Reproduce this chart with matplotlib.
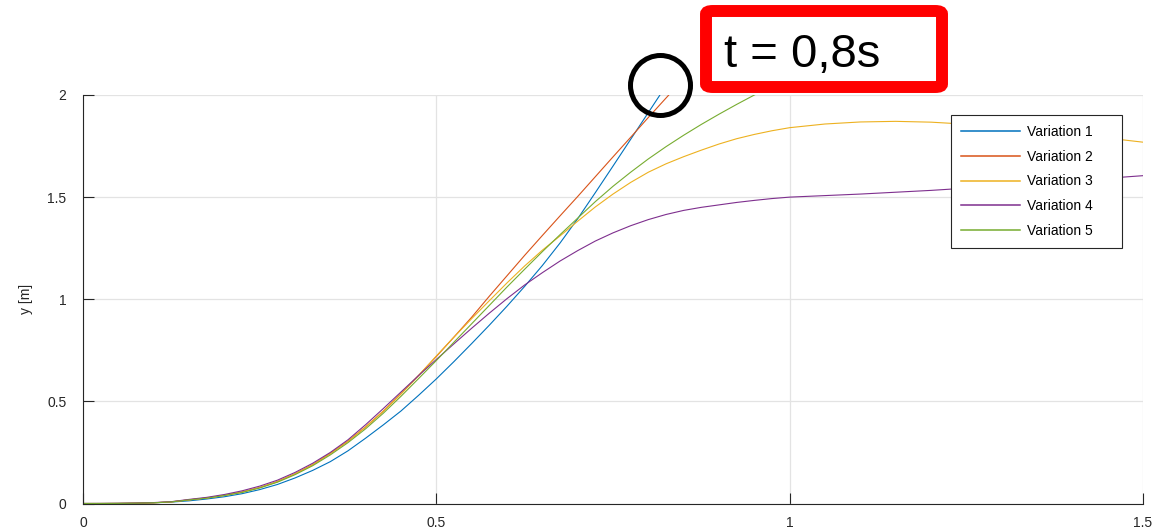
import matplotlib
matplotlib.use("Agg")
import matplotlib.pyplot as plt
from matplotlib.patches import FancyBboxPatch, Ellipse
from matplotlib.ticker import FormatStrFormatter

plt.rcParams['font.family'] = ['Liberation Sans', 'DejaVu Sans']

# values (time in s, y in m)
t_1 = [0, 0.025, 0.05, 0.075, 0.1, 0.125, 0.15, 0.175, 0.2, 0.225, 0.25,
       0.275, 0.3, 0.325, 0.35, 0.375, 0.4, 0.425, 0.45, 0.475, 0.5, 0.525,
       0.55, 0.575, 0.6, 0.625, 0.65, 0.675, 0.7, 0.725, 0.75, 0.775, 0.8,
       0.825]
y_1 = [0, 0.0001, 0.0005, 0.0015, 0.0035, 0.007, 0.013, 0.022, 0.033, 0.048,
       0.068, 0.093, 0.125, 0.162, 0.205, 0.258, 0.32, 0.385, 0.453, 0.53,
       0.61, 0.695, 0.783, 0.873, 0.966, 1.063, 1.165, 1.275, 1.394, 1.522,
       1.652, 1.783, 1.914, 2.045]

t_2 = [0, 0.025, 0.05, 0.075, 0.1, 0.125, 0.15, 0.175, 0.2, 0.225, 0.25,
       0.275, 0.3, 0.325, 0.35, 0.375, 0.4, 0.425, 0.45, 0.475, 0.5, 0.525,
       0.55, 0.575, 0.6, 0.625, 0.65, 0.675, 0.7, 0.725, 0.75, 0.775, 0.8,
       0.825, 0.85]
y_2 = [0, 0.0001, 0.0005, 0.0015, 0.0035, 0.008, 0.018, 0.027, 0.04, 0.056,
       0.078, 0.107, 0.145, 0.19, 0.245, 0.305, 0.375, 0.452, 0.537, 0.627,
       0.72, 0.815, 0.912, 1.015, 1.115, 1.215, 1.312, 1.408, 1.503, 1.60,
       1.697, 1.793, 1.89, 1.985, 2.08]

t_3 = [0, 0.025, 0.05, 0.075, 0.1, 0.125, 0.15, 0.175, 0.2, 0.225, 0.25,
       0.275, 0.3, 0.325, 0.35, 0.375, 0.4, 0.425, 0.45, 0.475, 0.5, 0.525,
       0.55, 0.575, 0.6, 0.625, 0.65, 0.675, 0.7, 0.725, 0.75, 0.775, 0.8,
       0.825, 0.85, 0.875, 0.9, 0.925, 0.95, 0.975, 1.0, 1.05, 1.1, 1.15,
       1.2, 1.25, 1.3, 1.35, 1.4, 1.45, 1.5]
y_3 = [0, 0.0001, 0.0005, 0.0015, 0.0035, 0.008, 0.018, 0.027, 0.04, 0.056,
       0.078, 0.107, 0.145, 0.19, 0.245, 0.305, 0.375, 0.452, 0.537, 0.627,
       0.722, 0.815, 0.905, 0.993, 1.08, 1.163, 1.24, 1.31, 1.382, 1.452,
       1.515, 1.572, 1.622, 1.663, 1.698, 1.73, 1.76, 1.786, 1.807, 1.825,
       1.84, 1.858, 1.868, 1.871, 1.867, 1.857, 1.843, 1.827, 1.809, 1.789,
       1.769]

t_4 = [0, 0.025, 0.05, 0.075, 0.1, 0.125, 0.15, 0.175, 0.2, 0.225, 0.25,
       0.275, 0.3, 0.325, 0.35, 0.375, 0.4, 0.425, 0.45, 0.475, 0.5, 0.525,
       0.55, 0.575, 0.6, 0.625, 0.65, 0.675, 0.7, 0.725, 0.75, 0.775, 0.8,
       0.825, 0.85, 0.875, 0.9, 0.925, 0.95, 0.975, 1.0, 1.1, 1.2, 1.3, 1.4,
       1.5]
y_4 = [0, 0.0001, 0.0006, 0.002, 0.0045, 0.009, 0.02, 0.03, 0.044, 0.062,
       0.085, 0.114, 0.152, 0.197, 0.25, 0.312, 0.386, 0.465, 0.546, 0.627,
       0.705, 0.782, 0.858, 0.932, 1.003, 1.07, 1.13, 1.187, 1.238, 1.285,
       1.325, 1.36, 1.39, 1.415, 1.435, 1.45, 1.462, 1.474, 1.484, 1.493,
       1.50, 1.515, 1.533, 1.555, 1.58, 1.605]

t_5 = [0, 0.025, 0.05, 0.075, 0.1, 0.125, 0.15, 0.175, 0.2, 0.225, 0.25,
       0.275, 0.3, 0.325, 0.35, 0.375, 0.4, 0.425, 0.45, 0.475, 0.5, 0.525,
       0.55, 0.575, 0.6, 0.625, 0.65, 0.675, 0.7, 0.725, 0.75, 0.775, 0.8,
       0.825, 0.85, 0.875, 0.9, 0.925, 0.95, 0.975, 1.0]
y_5 = [0, 0.0001, 0.0005, 0.0015, 0.0035, 0.0078, 0.0175, 0.026, 0.039, 0.054,
       0.076, 0.104, 0.141, 0.185, 0.238, 0.298, 0.366, 0.442, 0.525, 0.612,
       0.70, 0.79, 0.88, 0.97, 1.06, 1.147, 1.233, 1.316, 1.397, 1.478,
       1.553, 1.622, 1.687, 1.747, 1.803, 1.856, 1.906, 1.954, 2.0, 2.045,
       2.09]

labels = ['Variation 1', 'Variation 2', 'Variation 3', 'Variation 4', 'Variation 5']
colors = ['#0072BD', '#D95319', '#EDB120', '#7E2F8E', '#77AC30']

W, H = 1154, 531
fig = plt.figure(figsize=(W / 100, H / 100), dpi=100)
ax = fig.add_axes([83 / W, (H - 503.5) / H, 1060 / W, 408.5 / H])

for t, y, lab, c in zip([t_1, t_2, t_3, t_4, t_5], [y_1, y_2, y_3, y_4, y_5],
                        labels, colors):
    ax.plot(t, y, color=c, lw=0.8, label=lab)

ax.set_xlim(0, 1.5)
ax.set_ylim(0, 2)
ax.set_xticks([0, 0.5, 1, 1.5])
ax.set_yticks([0, 0.5, 1, 1.5, 2])
ax.xaxis.set_major_formatter(FormatStrFormatter('%g'))
ax.yaxis.set_major_formatter(FormatStrFormatter('%g'))
ax.grid(True, color='#e3e3e3', lw=0.9)
ax.set_axisbelow(True)
for s in ['top', 'right']:
    ax.spines[s].set_visible(False)
for s in ['left', 'bottom']:
    ax.spines[s].set_color('#262626')
    ax.spines[s].set_linewidth(0.8)
ax.tick_params(direction='in', length=8, width=0.8, colors='#262626',
               labelsize=10, labelcolor='#262626')
ax.tick_params(axis='x', pad=9)
ax.tick_params(axis='y', pad=12)
ax.set_ylabel('y [m]', fontsize=10, color='#262626', labelpad=10)

leg = ax.legend(loc='upper left', bbox_to_anchor=(0.8189, 0.5, 0.1613, 0.451),
                mode='expand', borderaxespad=0, fontsize=10, handlelength=4.3,
                handletextpad=0.45, labelspacing=0.78, fancybox=False,
                framealpha=1, edgecolor='#262626', borderpad=0.7)
leg.get_frame().set_linewidth(0.8)
for line in leg.get_lines():
    line.set_linewidth(1.1)

# red box with the time note, and the black circle, in figure pixels
box = FancyBboxPatch((706 / W, (H - 87) / H), 236 / W, 76 / H,
                     boxstyle='round,pad=0,rounding_size=0.006',
                     transform=fig.transFigure, fc='white', ec='#ff0000',
                     lw=8.6, zorder=5)
fig.add_artist(box)
fig.text(724 / W, (H - 55) / H, 't = 0,8s', fontsize=34, color='black',
         va='center', ha='left', zorder=6)
circ = Ellipse((660.5 / W, (H - 85.5) / H), 60 / W, 60 / H,
               transform=fig.transFigure, fc='none', ec='black', lw=3.6,
               zorder=5)
fig.add_artist(circ)

fig.savefig('out.png', dpi=100)
